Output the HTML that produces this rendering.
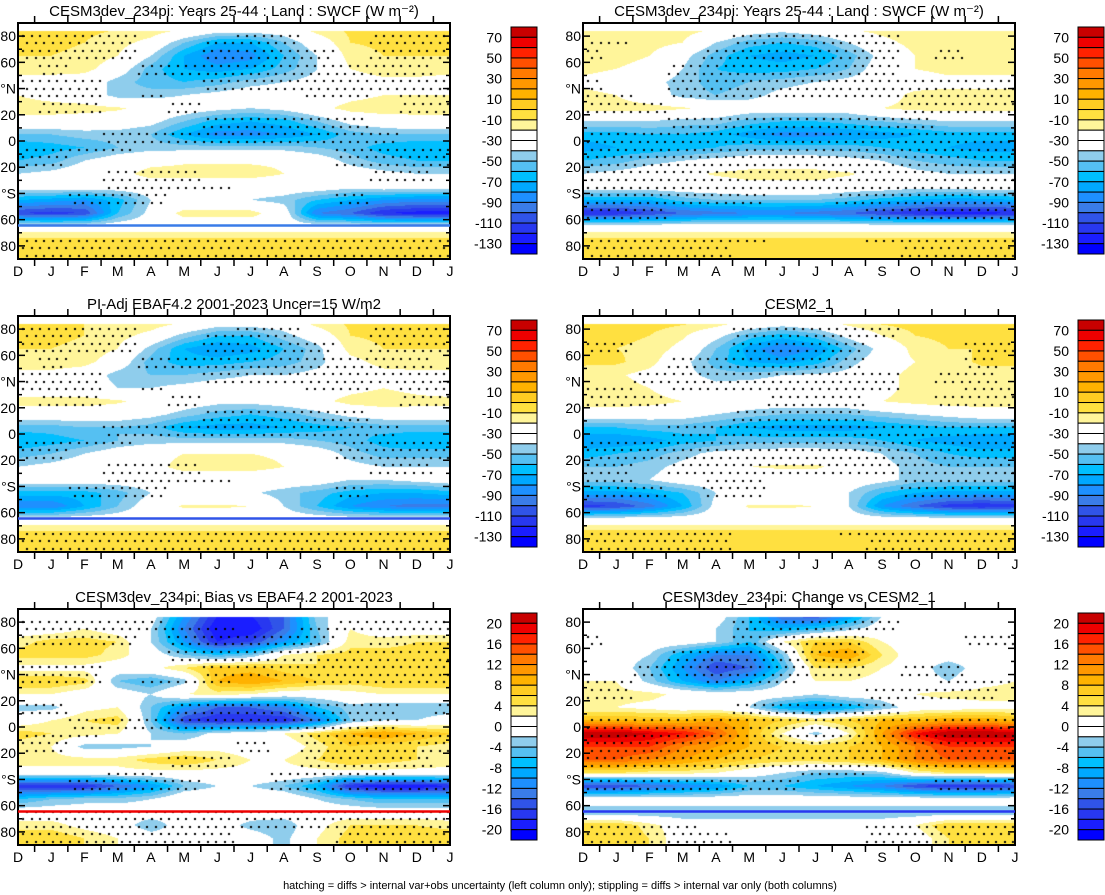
<!DOCTYPE html>
<html><head><meta charset="utf-8">
<style>
body{margin:0;background:#fff;width:1105px;height:895px;position:relative;overflow:hidden;font-family:"Liberation Sans",Arial,sans-serif;}
canvas{position:absolute;}
svg{position:absolute;left:0;top:0;}
</style></head>
<body>
<canvas id="c0" width="432" height="236" style="left:18px;top:23px"></canvas>
<canvas id="c1" width="432" height="236" style="left:583px;top:23px"></canvas>
<canvas id="c2" width="432" height="236" style="left:18px;top:316px"></canvas>
<canvas id="c3" width="432" height="236" style="left:583px;top:316px"></canvas>
<canvas id="c4" width="432" height="236" style="left:18px;top:609px"></canvas>
<canvas id="c5" width="432" height="236" style="left:583px;top:609px"></canvas>
<svg id="ov" width="1105" height="895"></svg>
<script>
const months=["D","J","F","M","A","M","J","J","A","S","O","N","D","J"];
const lats=[85,75,65,55,45,35,25,15,5,-5,-15,-25,-35,-45,-55,-65,-75,-85];
const titles=["CESM3dev_234pi: Years 25-44 : Land : SWCF (W m\u207B\u00B2)","CESM3dev_234pi: Years 25-44 : Land : SWCF (W m\u207B\u00B2)","PI-Adj EBAF4.2 2001-2023 Uncer=15 W/m2","CESM2_1","CESM3dev_234pi: Bias vs EBAF4.2 2001-2023","CESM3dev_234pi: Change vs CESM2_1"];
const absTicks=["70","50","30","10","-10","-30","-50","-70","-90","-110","-130"];
const diffTicks=["20","16","12","8","4","0","-4","-8","-12","-16","-20"];
const palette=["#c80000","#ee0000","#ff2200","#ff5000","#ff7a00","#ff9800","#ffb200","#ffcc22","#ffe040","#fff59a","#ffffff","#ffffff","#8fcdec","#55c0f2","#00bfff","#00a8ff","#1e90ff","#3a7ce8","#3054e8","#2838f0","#1a1eff","#0000ff"];
const P0=[
"-8 -8 -8 -10 -12 -20 -30 -30 -30 -15 -8 -8 -8 -8",
"-8 -8 -10 -15 -25 -50 -70 -70 -50 -30 -10 -8 -8 -8",
"-10 -10 -12 -20 -40 -70 -90 -85 -60 -40 -15 -10 -10 -10",
"-12 -12 -15 -30 -55 -70 -75 -70 -55 -40 -20 -12 -12 -12",
"-30 -30 -30 -45 -55 -60 -55 -45 -40 -35 -30 -25 -25 -30",
"-20 -25 -30 -45 -45 -40 -35 -30 -30 -30 -25 -20 -20 -20",
"-15 -15 -15 -18 -25 -30 -35 -40 -35 -25 -15 -12 -15 -15",
"-25 -25 -28 -30 -35 -50 -65 -70 -65 -50 -35 -30 -25 -25",
"-50 -50 -45 -45 -50 -70 -85 -85 -80 -70 -55 -50 -50 -50",
"-70 -65 -60 -50 -45 -45 -45 -45 -45 -50 -55 -65 -70 -70",
"-60 -55 -40 -30 -25 -22 -22 -22 -22 -30 -45 -55 -60 -60",
"-40 -35 -28 -25 -15 -15 -15 -15 -20 -25 -30 -35 -40 -40",
"-30 -30 -30 -30 -30 -30 -30 -30 -30 -30 -35 -30 -30 -30",
"-70 -75 -80 -65 -40 -35 -35 -40 -45 -60 -70 -80 -85 -85",
"-110 -115 -110 -60 -35 -15 -15 -15 -30 -90 -100 -120 -125 -125",
"-30 -30 -30 -30 -30 -30 -30 -30 -30 -30 -30 -30 -30 -30",
"-8 -8 -8 -8 -8 -8 -8 -8 -8 -8 -8 -8 -8 -8",
"-8 -8 -8 -8 -8 -8 -8 -8 -8 -8 -8 -8 -8 -8"];
const P1=[
"-10 -10 -12 -15 -20 -30 -35 -30 -20 -15 -12 -10 -10 -10",
"-12 -12 -15 -20 -40 -55 -60 -55 -40 -25 -15 -12 -12 -12",
"-15 -15 -20 -35 -55 -70 -75 -70 -55 -35 -20 -15 -15 -15",
"-15 -20 -25 -40 -60 -65 -65 -60 -50 -30 -20 -15 -15 -15",
"-25 -30 -35 -45 -55 -50 -45 -40 -35 -30 -30 -25 -25 -25",
"-15 -20 -30 -45 -50 -45 -35 -30 -30 -30 -15 -15 -15 -15",
"-15 -15 -15 -18 -25 -30 -30 -30 -30 -20 -15 -15 -15 -15",
"-40 -40 -40 -45 -45 -55 -60 -60 -55 -50 -45 -40 -40 -40",
"-65 -65 -60 -60 -65 -75 -85 -85 -80 -75 -70 -65 -65 -65",
"-75 -70 -70 -65 -60 -55 -55 -55 -55 -60 -65 -70 -75 -75",
"-60 -55 -45 -40 -35 -30 -30 -30 -35 -40 -50 -55 -60 -60",
"-40 -35 -30 -25 -18 -15 -15 -15 -18 -28 -35 -40 -40 -40",
"-30 -30 -30 -30 -30 -25 -25 -25 -30 -30 -35 -35 -30 -30",
"-70 -70 -70 -55 -50 -50 -50 -50 -55 -65 -70 -75 -75 -70",
"-120 -120 -110 -100 -95 -90 -90 -95 -100 -110 -120 -125 -125 -120",
"-30 -30 -30 -30 -30 -30 -30 -30 -30 -30 -30 -30 -30 -30",
"-8 -8 -8 -8 -8 -8 -8 -8 -8 -8 -8 -8 -8 -8",
"-8 -8 -8 -8 -8 -8 -8 -8 -8 -8 -8 -8 -8 -8"];
const P2=[
"-8 -8 -10 -10 -12 -20 -30 -30 -30 -15 -8 -8 -8 -8",
"-8 -8 -10 -15 -25 -45 -60 -60 -45 -30 -10 -8 -8 -8",
"-10 -10 -12 -20 -45 -70 -80 -75 -60 -45 -15 -10 -10 -10",
"-12 -12 -15 -30 -55 -65 -65 -60 -55 -45 -25 -15 -12 -12",
"-25 -25 -30 -45 -50 -50 -45 -40 -40 -35 -30 -25 -25 -25",
"-30 -30 -30 -40 -40 -35 -30 -30 -30 -30 -25 -20 -25 -30",
"-15 -15 -15 -18 -25 -30 -35 -35 -30 -25 -15 -12 -15 -15",
"-28 -28 -28 -30 -35 -45 -55 -60 -55 -45 -35 -30 -28 -28",
"-55 -55 -50 -50 -55 -70 -75 -75 -70 -65 -60 -55 -55 -55",
"-70 -65 -60 -50 -45 -45 -45 -45 -45 -50 -55 -65 -70 -70",
"-55 -50 -40 -30 -25 -20 -20 -20 -22 -30 -45 -55 -55 -55",
"-40 -35 -30 -28 -25 -15 -15 -15 -20 -30 -35 -40 -40 -40",
"-30 -30 -30 -30 -30 -30 -30 -30 -30 -30 -40 -40 -35 -30",
"-65 -65 -65 -55 -40 -35 -35 -38 -45 -55 -65 -70 -70 -65",
"-90 -90 -70 -50 -30 -18 -18 -20 -40 -60 -80 -90 -95 -95",
"-30 -30 -30 -30 -30 -30 -30 -30 -30 -30 -30 -30 -30 -30",
"-7 -7 -7 -7 -7 -7 -7 -7 -7 -7 -7 -7 -7 -7",
"-7 -7 -7 -7 -7 -7 -7 -7 -7 -7 -7 -7 -7 -7"];
const P3=[
"-6 -6 -6 -8 -12 -25 -30 -25 -15 -8 -6 -6 -6 -6",
"-8 -8 -10 -18 -35 -55 -65 -55 -35 -20 -10 -8 -8 -8",
"-10 -10 -12 -25 -50 -75 -90 -80 -55 -35 -15 -10 -10 -10",
"-8 -8 -15 -35 -55 -70 -75 -65 -45 -30 -20 -15 -8 -8",
"-15 -18 -25 -35 -45 -45 -40 -38 -35 -25 -15 -15 -15 -15",
"-15 -15 -20 -30 -35 -32 -30 -30 -30 -25 -15 -12 -15 -15",
"-12 -12 -15 -20 -25 -30 -30 -30 -28 -20 -15 -12 -12 -12",
"-30 -30 -30 -32 -40 -45 -50 -50 -50 -45 -40 -35 -30 -30",
"-60 -60 -55 -55 -60 -70 -75 -75 -75 -70 -65 -60 -60 -60",
"-80 -80 -75 -65 -60 -55 -55 -55 -55 -60 -70 -75 -80 -80",
"-65 -60 -55 -45 -35 -32 -30 -30 -32 -40 -50 -60 -65 -65",
"-50 -50 -45 -35 -30 -20 -18 -18 -25 -35 -45 -50 -50 -50",
"-45 -45 -40 -30 -30 -30 -30 -30 -30 -35 -45 -45 -45 -45",
"-75 -75 -70 -60 -40 -35 -35 -35 -40 -60 -70 -75 -75 -75",
"-115 -110 -95 -70 -35 -18 -18 -20 -40 -80 -100 -115 -120 -115",
"-30 -30 -30 -30 -30 -30 -30 -30 -30 -30 -30 -30 -30 -30",
"-6 -6 -6 -6 -6 -6 -6 -6 -6 -6 -6 -6 -6 -6",
"-6 -6 -6 -6 -6 -6 -6 -6 -6 -6 -6 -6 -6 -6"];
const P4=[
"1 1 1 1 0 -10 -18 -18 -14 -3 0 1 1 1",
"0 0 2 0 -2 -12 -20 -20 -14 -4 2 0 0 0",
"3 5 5 4 -2 -10 -18 -16 -10 -5 3 3 4 4",
"5 5 5 3 0 -4 -6 -4 2 4 5 5 5 5",
"1 1 1 0 1 4 7 7 5 4 4 5 6 5",
"6 6 5 -4 -6 -3 8 10 8 6 5 6 6 6",
"2 2 0 0 -2 2 3 2 0 0 1 2 2 2",
"-3 -3 1 2 -4 -10 -14 -14 -12 -6 -3 -4 -4 -4",
"0 2 4 5 -4 -16 -18 -18 -18 -12 -4 -2 -2 0",
"5 4 3 2 -2 -4 -1 0 2 5 8 10 8 6",
"3 2 -3 -3 -2 0 1 0 0 3 6 5 4 3",
"3 3 3 3 5 6 4 2 2 4 6 5 4 3",
"1 1 1 1 1 1 1 1 1 1 1 1 1 1",
"-18 -18 -18 -14 -10 -4 -2 -2 -4 -8 -18 -20 -20 -18",
"-6 -4 -3 -3 -2 1 1 1 1 -2 -4 -6 -6 -6",
"0 0 0 0 0 0 0 0 0 0 0 0 0 0",
"3 3 1 0 -4 0 0 -3 -4 1 4 4 4 3",
"6 6 4 2 0 0 0 0 -3 2 5 6 6 6"];
const P5=[
"0 0 0 0 0 -6 -14 -16 -10 -2 0 0 0 0",
"0 0 0 0 -2 -6 -8 -6 -3 0 0 0 0 0",
"0 0 0 0 -2 -6 2 6 6 2 0 0 0 0",
"0 0 -2 -8 -12 -12 -4 8 10 4 0 0 0 0",
"0 0 -4 -10 -16 -14 -6 4 4 2 0 -4 0 0",
"2 2 -3 -8 -12 -8 -2 2 2 1 0 -2 1 2",
"3 3 3 1 0 0 0 -2 0 0 2 3 3 3",
"2 2 1 0 0 -2 -8 -10 -8 -4 0 0 1 1",
"8 8 8 8 10 8 6 4 6 8 8 10 10 8",
"22 22 20 18 14 8 2 -3 2 10 18 22 22 22",
"16 16 16 12 10 8 6 5 6 8 12 16 16 16",
"14 14 12 10 8 6 5 5 6 8 12 14 14 14",
"4 4 3 3 2 0 -2 -4 -4 -3 2 4 4 4",
"-16 -16 -14 -12 -10 -6 -6 -8 -10 -12 -16 -18 -18 -16",
"0 0 0 0 0 0 0 0 0 0 0 0 0 0",
"-4 -4 -4 -4 -4 -4 -4 -4 -4 -4 -4 -4 -4 -4",
"6 6 3 0 0 0 0 0 0 0 2 6 6 6",
"6 6 4 0 0 0 0 0 0 0 0 4 6 6"];
const S0=["11110001100111","11110011100111","11110011110111","01001111111110","11100011111111","11101000011011","01100100000011","00000011111000","00011111111100","11110000001111","11000000001111","00011100000110","00011110000000","00111000001000","00000000000000","00000000000000","11111111111111","11111111111111"];
const S1=["00000111110000","11000111110000","10001111110100","00011111110000","10011111111111","11011111111111","11100000001111","00011111111000","11111111111111","11111111111111","11111111111111","11111111111111","11111111111111","11111100111111","11100000011111","00000000000000","11111100011111","11111000001111"];
const S3=["00000111110000","00000111110000","11000111100011","00011111100010","00111111110110","11011111110011","11100011100111","00000111100000","00011111111111","11111111111111","11111111111111","11011111111111","11001100001111","11101100001111","00000000000000","00000000000000","11111000111111","11111000011111"];
const S4=["11111000001111","11111110011111","11110111110111","00000111111111","11100011111111","11101110011111","00000000000000","11000111111101","00111111111100","11100000011111","11000001011111","00000110011110","00011000111100","00111100111111","00000000000000","11111111111111","11111111111111","11111110001111"];
const S5=["00000111110000","00000111110000","10000111100011","00011111100000","00111111101100","11001110000111","11000000011110","00000111110000","11111111111111","11111111111111","11111111111111","11111111111111","00000001100000","11111110000111","00000000000000","00000000000000","11110000011111","11111000011111"];
const panels=[P0,P1,P2,P3,P4,P5];
const stipples=[S0,S1,S0,S3,S4,S5];
const scaleTop=[80,80,80,80,22,22];
const scaleStep=[10,10,10,10,2,2];

const W=432,H=236;
function latToY(lat){return (90-lat)/180*H;}
function colX(i){return i*W/(months.length-1);}
panels.forEach((P,pi)=>{
  const g=P.map(r=>r.trim().split(/\s+/).map(Number));
  const cv=document.getElementById('c'+pi),ctx=cv.getContext('2d');
  const img=ctx.createImageData(W,H);
  const rgb=palette.map(h=>[parseInt(h.substr(1,2),16),parseInt(h.substr(3,2),16),parseInt(h.substr(5,2),16)]);
  for(let y=0;y<H;y++){
    const lat=90-(y+0.5)/H*180;
    let fr=(85-lat)/10; fr=Math.max(0,Math.min(lats.length-1,fr));
    const r0=Math.floor(fr),r1=Math.min(r0+1,lats.length-1),ty=fr-r0;
    for(let x=0;x<W;x++){
      let fc=(x+0.5)/W*(months.length-1);
      const c0=Math.floor(fc),c1=Math.min(c0+1,months.length-1),tx=fc-c0;
      const v=(g[r0][c0]*(1-tx)+g[r0][c1]*tx)*(1-ty)+(g[r1][c0]*(1-tx)+g[r1][c1]*tx)*ty;
      let k=Math.floor((scaleTop[pi]-v)/scaleStep[pi]);k=Math.max(0,Math.min(21,k));
      let col=rgb[k]; if(lat>84) col=[255,255,255];
      const o=(y*W+x)*4;img.data[o]=col[0];img.data[o+1]=col[1];img.data[o+2]=col[2];img.data[o+3]=255;
    }
  }
  ctx.putImageData(img,0,0);
  // stippling
  const S=stipples[pi];
  ctx.fillStyle='#000';
  let rowi=0;
  for(let y=4;y<H;y+=7.6,rowi++){
    const lat=90-y/H*180; if(lat>84) continue;
    const ri=Math.max(0,Math.min(17,Math.round((85-lat)/10)));
    for(let x=(rowi%2?4:8);x<W;x+=8.6){
      const ci=Math.max(0,Math.min(13,Math.round(x/(W/13))));
      if(S[ri][ci]==='1') ctx.fillRect(Math.round(x),Math.round(y),2,2);
    }
  }
});

const svg=document.getElementById('ov');const NS='http://www.w3.org/2000/svg';
function el(t,a,parent){const e=document.createElementNS(NS,t);for(const k in a)e.setAttribute(k,a[k]);(parent||svg).appendChild(e);return e;}
const px=[18,583,18,583,18,583],py=[23,23,316,316,609,609];
const ylab=["80","60","\u00B0N","20","0","20","\u00B0S","60","80"];
panels.forEach((P,pi)=>{
  const X=px[pi],Y=py[pi];
  const g=el('g',{});
  
  
  const t=el('text',{x:X+W/2,y:Y-7,'text-anchor':'middle','font-size':'15'},g);t.textContent=titles[pi];
  
  
  el('rect',{x:X,y:Y,width:W,height:H,fill:'none',stroke:'#000','stroke-width':2},g);
  for(let lat=80;lat>=-80;lat-=10){
    const yy=Y+latToY(lat),maj=(lat%20===0);const L=maj?7:4;
    el('line',{x1:X,x2:X+L,y1:yy,y2:yy,stroke:'#000','stroke-width':1.5},g);
    el('line',{x1:X+W-L,x2:X+W,y1:yy,y2:yy,stroke:'#000','stroke-width':1.5},g);
  }
  ylab.forEach((s,i)=>{const lat=80-i*20;const tt=el('text',{x:X-2,y:Y+latToY(lat)+5,'text-anchor':'end','font-size':'14'},g);tt.textContent=s;
    
    });
  months.forEach((m,i)=>{
    const xx=X+colX(i);
    const tt=el('text',{x:xx,y:Y+H+17,'text-anchor':'middle','font-size':'14'},g);tt.textContent=m;
    
    
    if(i<months.length-1){const xm=xm0(X,i);
      el('line',{x1:xm,x2:xm,y1:Y+H,y2:Y+H+7,stroke:'#000','stroke-width':1.5},g);
      el('line',{x1:xm,x2:xm,y1:Y,y2:Y-7,stroke:'#000','stroke-width':1.5},g);}
  });
  const cx=pi%2===0?511:1078,cy=Y+4,ch=227,bh=ch/22;
  const cb=el('g',{});
  
  
  palette.forEach((c,k)=>{el('rect',{x:cx,y:cy+k*bh,width:26,height:bh,fill:c,stroke:'#000','stroke-width':1},cb);});
  const ticks=pi<4?absTicks:diffTicks;
  ticks.forEach((s,j)=>{const tt=el('text',{x:cx-9,y:cy+(2*j+1)*bh+5,'text-anchor':'end','font-size':'14'},cb);tt.textContent=s;
    
    });
});
function xm0(X,i){return X+(colX(i)+colX(i+1))/2;}
[[4,'#ee0000'],[0,'#3a7ce8'],[2,'#3054e8'],[5,'#2838f0']].forEach(([pi,c])=>{
  const r=el('rect',{x:px[pi],y:py[pi]+latToY(-63.5),width:W,height:2.5,fill:c});
  
  
});
const ft=el('text',{x:560,y:889,'text-anchor':'middle','font-size':'11'});
ft.textContent="hatching = diffs > internal var+obs uncertainty (left column only); stippling = diffs > internal var only (both columns)";


</script>
</body></html>
